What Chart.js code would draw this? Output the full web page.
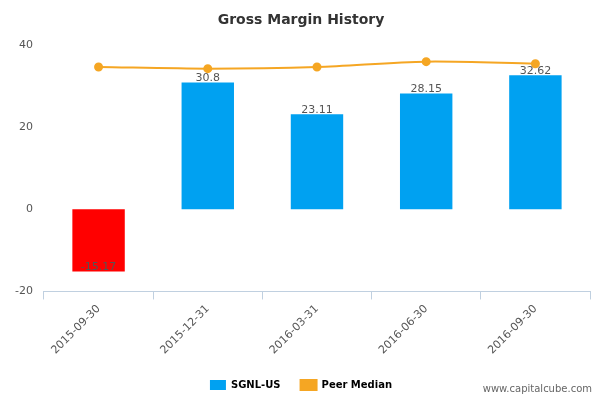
<!DOCTYPE html>
<html>
<head>
<script src="https://cdn.jsdelivr.net/npm/chart.js@4"></script>
<style>
body{margin:0;background:#fff;}
#wrap{position:relative;width:600px;height:400px;}
#credit{position:absolute;right:8px;bottom:6px;font:10px "DejaVu Sans",sans-serif;color:#666;}
</style>
</head>
<body>
<div id="wrap"><canvas id="c" width="600" height="400"></canvas><div id="credit">www.capitalcube.com</div></div>
<script>
const categories=["2015-09-30","2015-12-31","2016-03-31","2016-06-30","2016-09-30"];
const grossMargin=[-15.17,30.8,23.11,28.15,32.62];
const peerMedian=[34.6,34.2,34.6,35.9,35.4];
const yTicks=[-20,0,20,40];

/* bar value labels */
const valueLabels={
id:"valueLabels",
afterDatasetsDraw(chart){
const ctx=chart.ctx;
const meta=chart.getDatasetMeta(1);
ctx.save();
ctx.font="11px 'DejaVu Sans', sans-serif";
ctx.fillStyle="#555";
ctx.textAlign="center";
meta.data.forEach((b,i)=>{
let v=grossMargin[i];
let y=v<0?b.y-4:b.y-4;
ctx.fillText(String(v),b.x,y);
});
ctx.restore();
}
};

new Chart(document.getElementById("c"),{
data:{
labels:categories,
datasets:[{
type:"line",
label:"Peer Median",
data:peerMedian,
borderColor:"#f5a623",
backgroundColor:"#f5a623",
borderWidth:2,
pointRadius:3.5,
pointHoverRadius:3.5,
tension:0.3
},{
type:"bar",
label:"SGNL-US",
data:grossMargin,
backgroundColor:grossMargin.map(v=>v<0?"#ff0000":"#00a1f1"),
barPercentage:0.48,
categoryPercentage:1
}]
},
plugins:[valueLabels],
options:{
responsive:false,
animation:false,
layout:{padding:{left:12,right:10,top:4,bottom:0}},
plugins:{
title:{display:true,text:"Gross Margin History",color:"#333",font:{family:"DejaVu Sans",size:14,weight:"bold"},padding:{top:8,bottom:16}},
legend:{position:"bottom",labels:{font:{family:"DejaVu Sans",size:10,weight:"bold"},color:"#333",boxWidth:16,boxHeight:10,padding:20,
generateLabels(chart){
return [
{text:"SGNL-US",fillStyle:"#00a1f1",strokeStyle:"#00a1f1",lineWidth:0,datasetIndex:1},
{text:"Peer Median",fillStyle:"#f5a623",strokeStyle:"#f5a623",lineWidth:2,datasetIndex:0}
];
}}},
tooltip:{enabled:false}
},
scales:{
x:{
grid:{display:true,drawOnChartArea:false,color:"#c0d0e0",tickLength:8,offset:true},
border:{color:"#c0d0e0"},
ticks:{maxRotation:45,minRotation:45,color:"#555",font:{family:"DejaVu Sans",size:11}}
},
y:{
min:-20,max:40,
afterBuildTicks(s){s.ticks=yTicks.map(v=>({value:v}));},
grid:{display:false},
border:{display:false},
ticks:{color:"#555",font:{family:"DejaVu Sans",size:11}}
}
}
}
});
</script>
</body>
</html>
